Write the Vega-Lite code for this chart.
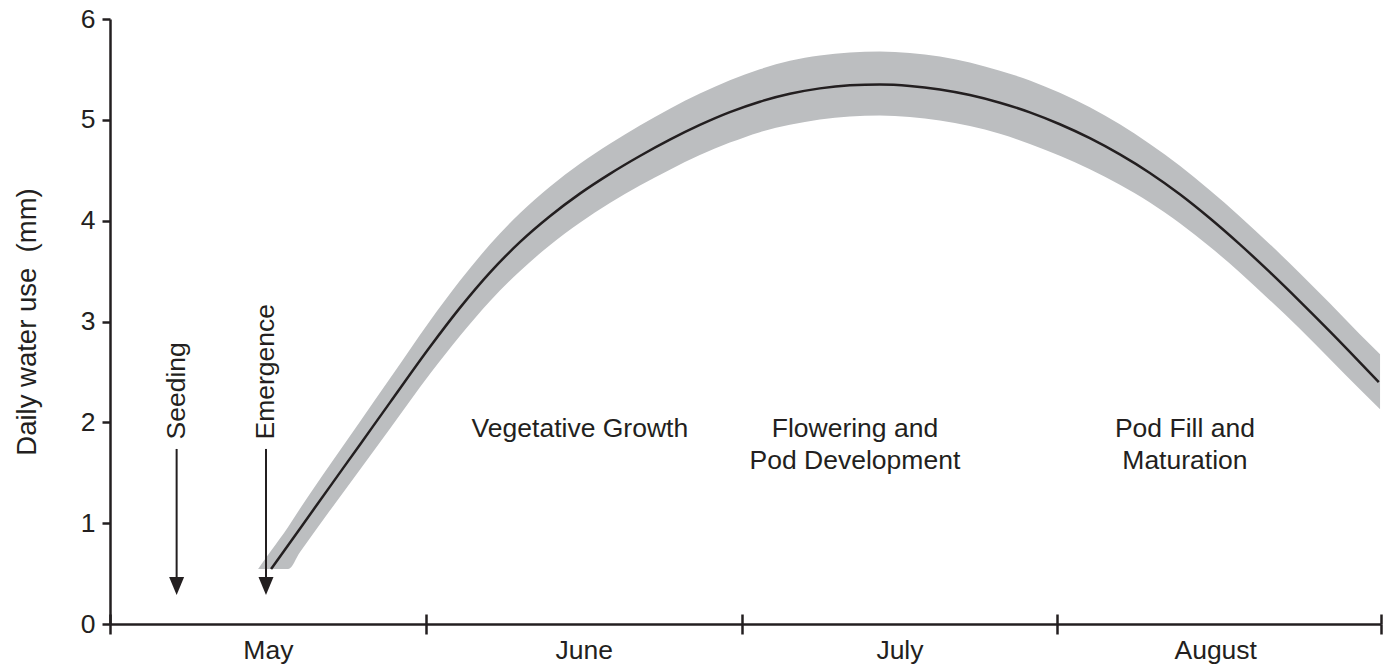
{
  "$schema": "https://vega.github.io/schema/vega-lite/v6.json",
  "width": 1271,
  "height": 605,
  "autosize": {"type": "none"},
  "padding": {"left": 110, "top": 19, "right": 6, "bottom": 43},
  "background": "white",
  "config": {
    "view": {"stroke": null},
    "font": "Liberation Sans",
    "axis": {
      "grid": false,
      "labelFont": "Liberation Sans",
      "titleFont": "Liberation Sans",
      "labelColor": "#231f20",
      "titleColor": "#231f20",
      "domainColor": "#231f20",
      "tickColor": "#231f20"
    }
  },
  "datasets": {
    "band": [
      {"month": 0.469, "lo": 0.545, "hi": 0.545},
      {"month": 0.510, "lo": 0.545, "hi": 0.726},
      {"month": 0.564, "lo": 0.545, "hi": 0.962},
      {"month": 0.602, "lo": 0.714, "hi": 1.146},
      {"month": 0.697, "lo": 1.127, "hi": 1.583},
      {"month": 0.792, "lo": 1.533, "hi": 2.009},
      {"month": 0.887, "lo": 1.940, "hi": 2.436},
      {"month": 1.013, "lo": 2.479, "hi": 3.005},
      {"month": 1.108, "lo": 2.857, "hi": 3.403},
      {"month": 1.203, "lo": 3.202, "hi": 3.763},
      {"month": 1.298, "lo": 3.499, "hi": 4.074},
      {"month": 1.393, "lo": 3.757, "hi": 4.337},
      {"month": 1.488, "lo": 3.980, "hi": 4.565},
      {"month": 1.583, "lo": 4.176, "hi": 4.762},
      {"month": 1.678, "lo": 4.349, "hi": 4.944},
      {"month": 1.773, "lo": 4.506, "hi": 5.111},
      {"month": 1.868, "lo": 4.651, "hi": 5.261},
      {"month": 1.963, "lo": 4.774, "hi": 5.393},
      {"month": 2.058, "lo": 4.878, "hi": 5.502},
      {"month": 2.153, "lo": 4.951, "hi": 5.586},
      {"month": 2.248, "lo": 5.004, "hi": 5.639},
      {"month": 2.343, "lo": 5.034, "hi": 5.669},
      {"month": 2.438, "lo": 5.042, "hi": 5.677},
      {"month": 2.533, "lo": 5.028, "hi": 5.663},
      {"month": 2.628, "lo": 4.994, "hi": 5.628},
      {"month": 2.723, "lo": 4.939, "hi": 5.569},
      {"month": 2.818, "lo": 4.863, "hi": 5.487},
      {"month": 2.913, "lo": 4.761, "hi": 5.391},
      {"month": 3.008, "lo": 4.643, "hi": 5.268},
      {"month": 3.103, "lo": 4.511, "hi": 5.125},
      {"month": 3.198, "lo": 4.355, "hi": 4.955},
      {"month": 3.293, "lo": 4.180, "hi": 4.760},
      {"month": 3.388, "lo": 3.974, "hi": 4.544},
      {"month": 3.483, "lo": 3.741, "hi": 4.301},
      {"month": 3.578, "lo": 3.487, "hi": 4.042},
      {"month": 3.673, "lo": 3.211, "hi": 3.767},
      {"month": 3.768, "lo": 2.928, "hi": 3.478},
      {"month": 3.863, "lo": 2.629, "hi": 3.180},
      {"month": 3.958, "lo": 2.328, "hi": 2.873},
      {"month": 4.022, "lo": 2.130, "hi": 2.676}
    ],
    "mean": [
      {"month": 0.510, "use": 0.545},
      {"month": 0.602, "use": 0.948},
      {"month": 0.697, "use": 1.365},
      {"month": 0.792, "use": 1.781},
      {"month": 0.887, "use": 2.198},
      {"month": 1.013, "use": 2.747},
      {"month": 1.108, "use": 3.135},
      {"month": 1.203, "use": 3.485},
      {"month": 1.298, "use": 3.787},
      {"month": 1.393, "use": 4.044},
      {"month": 1.488, "use": 4.268},
      {"month": 1.583, "use": 4.464},
      {"month": 1.678, "use": 4.641},
      {"month": 1.773, "use": 4.803},
      {"month": 1.868, "use": 4.949},
      {"month": 1.963, "use": 5.076},
      {"month": 2.058, "use": 5.180},
      {"month": 2.153, "use": 5.258},
      {"month": 2.248, "use": 5.312},
      {"month": 2.343, "use": 5.342},
      {"month": 2.438, "use": 5.350},
      {"month": 2.533, "use": 5.336},
      {"month": 2.628, "use": 5.301},
      {"month": 2.723, "use": 5.246},
      {"month": 2.818, "use": 5.170},
      {"month": 2.913, "use": 5.074},
      {"month": 3.008, "use": 4.956},
      {"month": 3.103, "use": 4.818},
      {"month": 3.198, "use": 4.657},
      {"month": 3.293, "use": 4.473},
      {"month": 3.388, "use": 4.262},
      {"month": 3.483, "use": 4.024},
      {"month": 3.578, "use": 3.765},
      {"month": 3.673, "use": 3.489},
      {"month": 3.768, "use": 3.200},
      {"month": 3.863, "use": 2.902},
      {"month": 3.958, "use": 2.595},
      {"month": 4.018, "use": 2.398}
    ],
    "events": [
      {"label": "Seeding", "pos": 0.211},
      {"label": "Emergence", "pos": 0.494}
    ],
    "phases": [
      {"lines": ["Vegetative Growth"], "pos": 1.488},
      {"lines": ["Flowering and", "Pod Development"], "pos": 2.359},
      {"lines": ["Pod Fill and", "Maturation"], "pos": 3.404}
    ]
  },
  "layer": [
    {
      "data": {"name": "band"},
      "mark": {"type": "area", "orient": "vertical", "color": "#bcbec0", "interpolate": "monotone"},
      "encoding": {
        "x": {
          "field": "month", "type": "quantitative",
          "scale": {"domain": [0, 4.025], "nice": false, "zero": false},
          "axis": {"orient": "bottom", "values": [0, 1, 2, 3, 4.025], "tickSize": 10, "tickWidth": 2.5, "domainWidth": 2.5, "labels": false, "title": null}
        },
        "y": {
          "field": "lo", "type": "quantitative",
          "scale": {"domain": [0, 6], "nice": false, "zero": true},
          "axis": {"orient": "left", "values": [0, 1, 2, 3, 4, 5, 6], "tickSize": 8, "tickWidth": 2.5, "domainWidth": 2.5, "labelFontSize": 26.5, "labelPadding": 7, "title": "Daily water use \u00a0(mm)", "titleFontSize": 27.5, "titleFontWeight": "normal", "titlePadding": 39}
        },
        "y2": {"field": "hi"}
      }
    },
    {
      "data": {"name": "mean"},
      "mark": {"type": "line", "color": "#231f20", "strokeWidth": 2.5, "interpolate": "monotone"},
      "encoding": {
        "x": {
          "field": "month", "type": "quantitative",
          "axis": {"orient": "top", "offset": -605, "values": [0, 1, 2, 3, 4.025], "tickSize": 10, "tickWidth": 2.5, "labels": false, "domain": false, "title": null}
        },
        "y": {"field": "use", "type": "quantitative", "axis": null}
      }
    },
    {
      "data": {"name": "events"},
      "mark": {"type": "rule", "color": "#231f20", "strokeWidth": 2},
      "encoding": {
        "x": {
          "field": "pos", "type": "quantitative",
          "axis": {"orient": "bottom", "values": [0.5, 1.5, 2.5, 3.5], "labelExpr": "['May','June','July','August'][floor(datum.value)]", "ticks": false, "tickSize": 0, "domain": false, "labelPadding": 13, "labelFontSize": 26.5, "labelFlush": false, "labelOverlap": false, "title": null}
        },
        "y": {"datum": 1.736, "type": "quantitative", "axis": null},
        "y2": {"datum": 0.40}
      }
    },
    {
      "data": {"name": "events"},
      "mark": {"type": "point", "shape": "M-0.833,-1L0.833,-1L0,1Z", "size": 324, "filled": true, "color": "#231f20", "opacity": 1},
      "encoding": {
        "x": {"field": "pos", "type": "quantitative", "axis": null},
        "y": {"datum": 0.377, "type": "quantitative", "axis": null}
      }
    },
    {
      "data": {"name": "events"},
      "mark": {"type": "text", "angle": 270, "align": "left", "baseline": "middle", "fontSize": 26.5, "color": "#231f20", "font": "Liberation Sans"},
      "encoding": {
        "x": {"field": "pos", "type": "quantitative", "axis": null},
        "y": {"datum": 1.83, "type": "quantitative", "axis": null},
        "text": {"field": "label", "type": "nominal"}
      }
    },
    {
      "data": {"name": "phases"},
      "mark": {"type": "text", "align": "center", "baseline": "alphabetic", "fontSize": 26.5, "lineHeight": 32, "color": "#231f20", "font": "Liberation Sans"},
      "encoding": {
        "x": {"field": "pos", "type": "quantitative", "axis": null},
        "y": {"datum": 1.855, "type": "quantitative", "axis": null},
        "text": {"field": "lines", "type": "nominal"}
      }
    }
  ],
  "resolve": {"axis": {"x": "independent", "y": "independent"}}
}
